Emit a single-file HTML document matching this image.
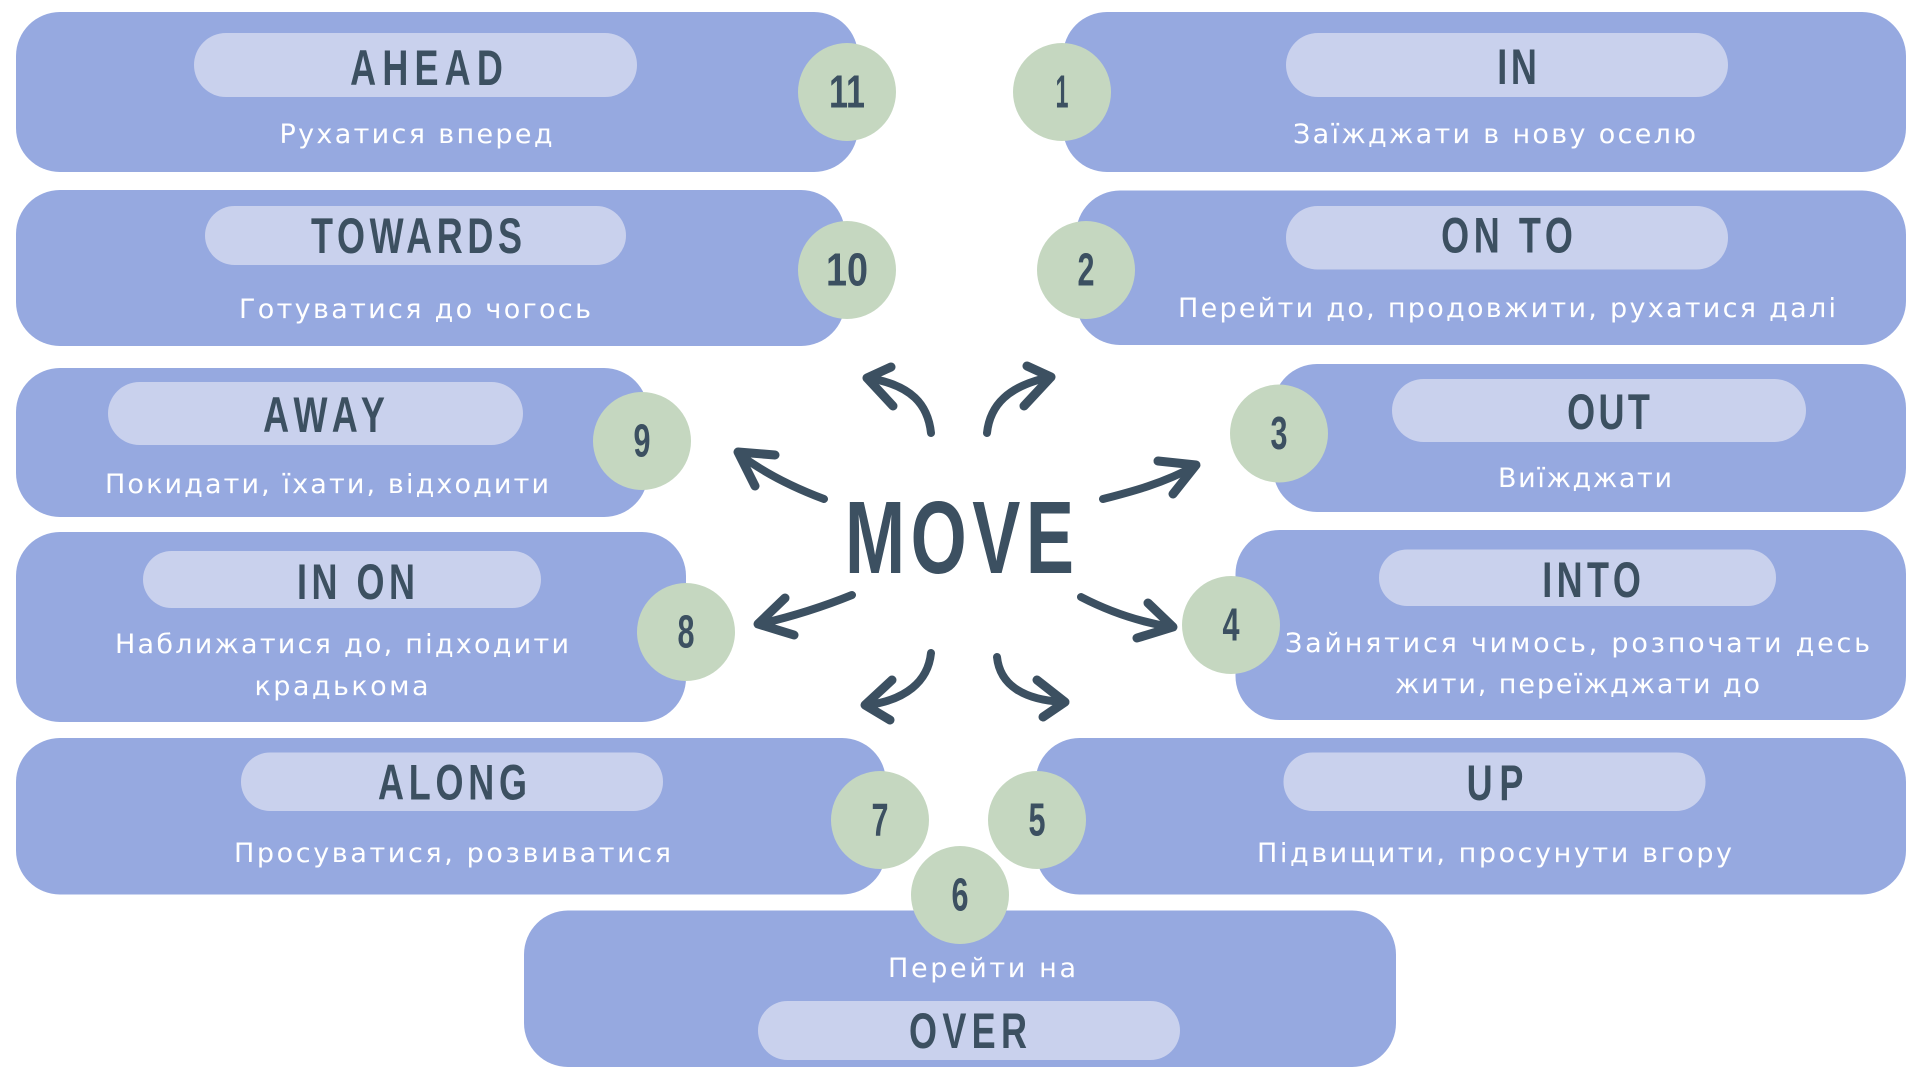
<!DOCTYPE html>
<html><head><meta charset="utf-8"><style>
html,body{margin:0;padding:0;background:#fff;width:1920px;height:1080px;overflow:hidden}
svg{display:block}
.box{fill:#96a9e0}
.pill{fill:#c9d1ed}
.badge{fill:#c5d7c0}
.t{font-family:"Liberation Sans",sans-serif;font-weight:bold;font-size:50px;fill:#3c5061;text-anchor:middle}
.n{font-family:"Liberation Sans",sans-serif;font-weight:bold;font-size:46px;fill:#3c5061;text-anchor:middle}
.s{font-family:"DejaVu Sans","Liberation Sans",sans-serif;font-size:27px;fill:#ffffff;text-anchor:middle}
.sh{fill:none;stroke:#3c5061;stroke-width:8;stroke-linecap:round}
.hd{fill:none;stroke:#3c5061;stroke-width:9;stroke-linecap:round;stroke-linejoin:round}
</style></head><body>
<svg width="1920" height="1080" viewBox="0 0 1920 1080" xmlns="http://www.w3.org/2000/svg">
<!-- left column -->
<rect class="box" x="16" y="12" width="842" height="160" rx="44"/>
<rect class="pill" x="194" y="33" width="443" height="64" rx="32"/>
<text class="t" transform="translate(426.5,85) scale(0.72,1)" x="0" y="0" textLength="212" lengthAdjust="spacing">AHEAD</text>
<text class="s" x="416" y="143" textLength="273" lengthAdjust="spacing">Рухатися вперед</text>

<rect class="box" x="16" y="190" width="829" height="156" rx="44"/>
<rect class="pill" x="205" y="206" width="421" height="59" rx="29.5"/>
<text class="t" transform="translate(416.5,253) scale(0.72,1)" x="0" y="0" textLength="293" lengthAdjust="spacing">TOWARDS</text>
<text class="s" x="415" y="318" textLength="352" lengthAdjust="spacing">Готуватися до чогось</text>

<rect class="box" x="16" y="368" width="632" height="149" rx="44"/>
<rect class="pill" x="108" y="382" width="415" height="63" rx="31.5"/>
<text class="t" transform="translate(324,432) scale(0.72,1)" x="0" y="0" textLength="169" lengthAdjust="spacing">AWAY</text>
<text class="s" x="327" y="493" textLength="444" lengthAdjust="spacing">Покидати, їхати, відходити</text>

<rect class="box" x="16" y="532" width="670" height="190" rx="44"/>
<rect class="pill" x="143" y="551" width="398" height="57" rx="28.5"/>
<text class="t" transform="translate(356,599) scale(0.72,1)" x="0" y="0" textLength="164" lengthAdjust="spacing">IN ON</text>
<text class="s" x="342" y="653" textLength="454" lengthAdjust="spacing">Наближатися до, підходити</text>
<text class="s" x="341.5" y="695" textLength="174" lengthAdjust="spacing">крадькома</text>

<rect class="box" x="16" y="738" width="870" height="156.5" rx="44"/>
<rect class="pill" x="241" y="752.5" width="422" height="58.5" rx="29"/>
<text class="t" transform="translate(452.5,799.5) scale(0.72,1)" x="0" y="0" textLength="207" lengthAdjust="spacing">ALONG</text>
<text class="s" x="452.5" y="862" textLength="437" lengthAdjust="spacing">Просуватися, розвиватися</text>

<rect class="box" x="524" y="910.5" width="872" height="156.5" rx="44"/>
<text class="s" x="982" y="977" textLength="188" lengthAdjust="spacing">Перейти на</text>
<rect class="pill" x="758" y="1001" width="422" height="59" rx="29.5"/>
<text class="t" transform="translate(968,1048) scale(0.72,1)" x="0" y="0" textLength="164" lengthAdjust="spacing">OVER</text>

<!-- right column -->
<rect class="box" x="1063" y="12" width="843" height="160" rx="44"/>
<rect class="pill" x="1286" y="33" width="442" height="64" rx="32"/>
<text class="t" transform="translate(1517,84) scale(0.72,1)" x="0" y="0" textLength="55" lengthAdjust="spacing">IN</text>
<text class="s" x="1494.5" y="143" textLength="403" lengthAdjust="spacing">Заїжджати в нову оселю</text>

<rect class="box" x="1076" y="190.5" width="830" height="154.5" rx="44"/>
<rect class="pill" x="1286" y="206" width="442" height="63.5" rx="31.5"/>
<text class="t" transform="translate(1507,252.5) scale(0.72,1)" x="0" y="0" textLength="183" lengthAdjust="spacing">ON TO</text>
<text class="s" x="1507" y="317" textLength="658" lengthAdjust="spacing">Перейти до, продовжити, рухатися далі</text>

<rect class="box" x="1273" y="364" width="633" height="148" rx="44"/>
<rect class="pill" x="1392" y="379" width="414" height="63" rx="31.5"/>
<text class="t" transform="translate(1608.5,429) scale(0.72,1)" x="0" y="0" textLength="115" lengthAdjust="spacing">OUT</text>
<text class="s" x="1585" y="487" textLength="174" lengthAdjust="spacing">Виїжджати</text>

<rect class="box" x="1235.5" y="530" width="670.5" height="190" rx="44"/>
<rect class="pill" x="1379" y="549.5" width="397" height="56.5" rx="28"/>
<text class="t" transform="translate(1591.5,597) scale(0.72,1)" x="0" y="0" textLength="137" lengthAdjust="spacing">INTO</text>
<text class="s" x="1577.5" y="652" textLength="585" lengthAdjust="spacing">Зайнятися чимось, розпочати десь</text>
<text class="s" x="1577.5" y="693" textLength="365" lengthAdjust="spacing">жити, переїжджати до</text>

<rect class="box" x="1035.5" y="738" width="870.5" height="156.5" rx="44"/>
<rect class="pill" x="1283.5" y="752.5" width="422" height="58.5" rx="29"/>
<text class="t" transform="translate(1495,800) scale(0.72,1)" x="0" y="0" textLength="79" lengthAdjust="spacing">UP</text>
<text class="s" x="1494.5" y="862" textLength="475" lengthAdjust="spacing">Підвищити, просунути вгору</text>

<!-- badges -->
<circle class="badge" cx="847" cy="92" r="49"/><text class="n" x="847" y="107.5" textLength="36" lengthAdjust="spacingAndGlyphs">11</text>
<circle class="badge" cx="847" cy="270" r="49"/><text class="n" x="847" y="285.5" textLength="42" lengthAdjust="spacingAndGlyphs">10</text>
<circle class="badge" cx="642" cy="441" r="49"/><text class="n" x="642" y="456.5" textLength="17" lengthAdjust="spacingAndGlyphs">9</text>
<circle class="badge" cx="686" cy="632" r="49"/><text class="n" x="686" y="647.5" textLength="17" lengthAdjust="spacingAndGlyphs">8</text>
<circle class="badge" cx="880" cy="820" r="49"/><text class="n" x="880" y="835.5" textLength="17" lengthAdjust="spacingAndGlyphs">7</text>
<circle class="badge" cx="960" cy="895" r="49"/><text class="n" x="960" y="910.5" textLength="17" lengthAdjust="spacingAndGlyphs">6</text>
<circle class="badge" cx="1037" cy="820" r="49"/><text class="n" x="1037" y="835.5" textLength="17" lengthAdjust="spacingAndGlyphs">5</text>
<circle class="badge" cx="1231" cy="625" r="49"/><text class="n" x="1231" y="640.5" textLength="17" lengthAdjust="spacingAndGlyphs">4</text>
<circle class="badge" cx="1279" cy="433.5" r="49"/><text class="n" x="1279" y="449" textLength="17" lengthAdjust="spacingAndGlyphs">3</text>
<circle class="badge" cx="1086" cy="270" r="49"/><text class="n" x="1086" y="285.5" textLength="17" lengthAdjust="spacingAndGlyphs">2</text>
<circle class="badge" cx="1062" cy="92" r="49"/><text class="n" x="1062" y="107.5" textLength="13" lengthAdjust="spacingAndGlyphs">1</text>

<!-- center -->
<text transform="translate(959.5,573) scale(0.7,1)" x="0" y="0" font-family="Liberation Sans, sans-serif" font-weight="bold" font-size="103" fill="#3c5061" text-anchor="middle" textLength="327" lengthAdjust="spacing">MOVE</text>

<!-- arrows -->
<path class="sh" d="M931,433 C928,405 912,385 868,378"/>
<polyline class="hd" points="891,367 867,378 893,406"/>
<path class="sh" d="M987,433 C990,405 1008,386 1050,377"/>
<polyline class="hd" points="1027,366 1051,377 1024,406"/>
<path class="sh" d="M824,499 C800,490 768,476 739,454"/>
<polyline class="hd" points="775,455 738,452 755,486"/>
<path class="sh" d="M1103,499 C1130,492 1162,484 1195,466"/>
<polyline class="hd" points="1158,461 1196,465 1173,494"/>
<path class="sh" d="M852,595 C820,608 790,617 760,624"/>
<polyline class="hd" points="785,598 758,624 794,635"/>
<path class="sh" d="M1081,597 C1110,612 1140,622 1171,627"/>
<polyline class="hd" points="1148,603 1173,627 1137,638"/>
<path class="sh" d="M931,653 C928,682 905,700 868,705"/>
<polyline class="hd" points="892,680 865,705 890,720"/>
<path class="sh" d="M997,657 C1000,686 1025,700 1063,702"/>
<polyline class="hd" points="1037,680 1065,702 1043,717"/>
</svg>
</body></html>
